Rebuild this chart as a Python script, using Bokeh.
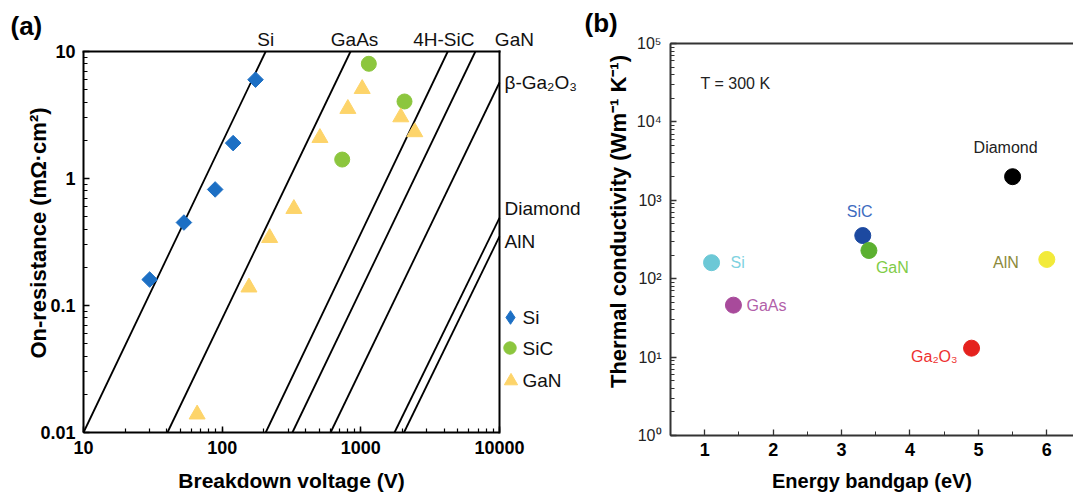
import math
from bokeh.plotting import figure
from bokeh.layouts import row
from bokeh.models import (Label, Legend, LegendItem, CustomJSTickFormatter,
                          SingleIntervalTicker, Range1d, ColumnDataSource)
from bokeh.embed import file_html
from bokeh.resources import INLINE

FONT = "Liberation Sans"

# ---------------- Panel (a) data ----------------
si_v = [30, 53, 89, 120, 174]
si_r = [0.16, 0.45, 0.82, 1.9, 6.0]
sic_v = [734, 1142, 2065]
sic_r = [1.41, 8.0, 4.04]
gan_v = [66, 156, 220, 329, 507, 806, 1023, 1941, 2449]
gan_r = [0.0139, 0.139, 0.341, 0.577, 2.09, 3.54, 5.08, 3.04, 2.32]

limit_names = ["Si", "GaAs", "4H-SiC", "GaN", "β-Ga₂O₃", "Diamond", "AlN"]
limit_v0 = [10, 40.3, 206, 321, 605, 1749, 2047]
limit_r0 = [0.01, 0.01, 0.01, 0.01, 0.01, 0.01, 0.01]
limit_v1 = [206, 843, 4236, 6700, 10000, 10000, 10000]
limit_r1 = [10, 10, 10, 10, 5.7, 0.49, 0.35]

legend_labels = ["Si", "SiC", "GaN"]

# ---------------- Panel (b) data ----------------
mat_names = ["Si", "GaAs", "SiC", "GaN", "Diamond", "AlN", "Ga₂O₃"]
mat_gap = [1.1, 1.42, 3.31, 3.4, 5.5, 6.0, 4.9]
mat_k = [160, 46, 355, 229, 2000, 176, 13]
mat_colors = ["#6cc8d6", "#a84a9b", "#1c49a0", "#5bb030", "#000000", "#f2ea3a", "#e5221e"]
mat_label_colors = ["#7ed2e0", "#b25fa9", "#3d6bc0", "#7fcc48", "#222222", "#8c8a3a", "#ee3030"]

# axis domains
A_X = (10, 10000)
A_Y = (0.01, 10)
B_X_LO = 0.5
B_Y = (1, 1e5)

# ---- layout constants (pixels) ----
A_W, H = 582, 499
A_LEFT, A_TOP, A_BOTTOM = 83, 51, 67
A_RIGHT = A_W - A_LEFT - 416
B_W = 1073 - A_W
B_LEFT, B_TOP, B_BOTTOM = 670 - A_W, 43, 64

SI_COLOR, SIC_COLOR, GAN_COLOR = "#1c6fc4", "#8cc63e", "#fdd46a"
NAN = float("nan")

# ================= Panel (a) =================
dx = (A_W - A_LEFT - A_RIGHT) / math.log10(A_X[1] / A_X[0])
dy = (H - A_TOP - A_BOTTOM) / math.log10(A_Y[1] / A_Y[0])
xr_a = Range1d(A_X[0] * 10 ** (-A_LEFT / dx), A_X[1] * 10 ** (A_RIGHT / dx))
yr_a = Range1d(A_Y[0] * 10 ** (-A_BOTTOM / dy), A_Y[1] * 10 ** (A_TOP / dy))

p1 = figure(width=A_W, height=H, x_axis_type="log", y_axis_type="log",
            x_range=xr_a, y_range=yr_a, output_backend="svg", toolbar_location=None,
            min_border_left=0, min_border_right=0, min_border_top=0, min_border_bottom=0)
p1.grid.visible = False
p1.outline_line_color = None
p1.background_fill_color = "white"
p1.border_fill_color = "white"

# frame top & right edges
p1.segment(x0=[A_X[0], A_X[1]], y0=[A_Y[1], A_Y[0]], x1=[A_X[1], A_X[1]], y1=[A_Y[1], A_Y[1]],
           line_color="black", line_width=2, line_cap="square")

p1.segment(x0=limit_v0, y0=limit_r0, x1=limit_v1, y1=limit_r1, line_color="black", line_width=1.8)

r_si = p1.scatter(si_v, si_r, marker="square", angle=0.785398, size=11, color=SI_COLOR)
r_sic = p1.scatter(sic_v, sic_r, marker="circle", size=15, color=SIC_COLOR)
r_gan = p1.scatter(gan_v, gan_r, marker="triangle", size=16, color=GAN_COLOR)
# legend proxy for the rotated-square Si marker (legend glyphs ignore rotation); never drawn
r_si_leg = p1.scatter(x=[NAN], y=[NAN], marker="diamond", size=11, color=SI_COLOR)

xa, ya = p1.xaxis[0], p1.yaxis[0]
xa.fixed_location = A_Y[0]
xa.bounds = A_X
ya.fixed_location = A_X[0]
ya.bounds = A_Y
for ax in (xa, ya):
    ax.axis_line_width = 2
    ax.major_tick_in = 6
    ax.major_tick_out = 0
    ax.minor_tick_in = 4
    ax.minor_tick_out = 0
    ax.major_tick_line_width = 1.5
    ax.minor_tick_line_width = 1.2
    ax.major_label_text_font = FONT
    ax.major_label_text_font_style = "bold"
    ax.major_label_text_font_size = "18px"
    ax.major_label_text_color = "black"
    ax.axis_label_text_font = FONT
    ax.axis_label_text_font_style = "bold"
    ax.axis_label_text_color = "black"
    ax.major_label_standoff = 8

fmt_a = CustomJSTickFormatter(code="""
const e = Math.round(Math.log10(tick));
return e >= 0 ? String(Math.round(tick)) : tick.toFixed(-e);
""")
xa.formatter = fmt_a
ya.formatter = fmt_a
xa.axis_label = "Breakdown voltage (V)"
xa.axis_label_text_font_size = "21px"
xa.axis_label_standoff = 12

p1.add_layout(Label(x=A_X[0], y=math.sqrt(A_Y[0] * A_Y[1]), text="On-resistance (mΩ·cm²)",
                    angle=math.pi / 2, x_offset=-45, y_offset=9, text_align="center",
                    text_baseline="middle", text_font=FONT, text_font_style="bold",
                    text_font_size="22px", text_color="black"))

# limit line labels
top_offsets = [0, 4, -4, 39]
for i in range(4):
    p1.add_layout(Label(x=limit_v1[i], y=limit_r1[i], text=limit_names[i], x_offset=top_offsets[i],
                        y_offset=12, text_align="center", text_baseline="middle",
                        text_font=FONT, text_font_size="19px", text_color="#111111"))
right_offsets = [0, 9, -5]
for j, i in enumerate(range(4, 7)):
    p1.add_layout(Label(x=limit_v1[i], y=limit_r1[i], text=limit_names[i], x_offset=5,
                        y_offset=right_offsets[j], text_align="left", text_baseline="middle",
                        text_font=FONT, text_font_size="19px", text_color="#111111"))

# legend: glyph-only Legend per entry (own glyph size), text as labels
leg_renderers = [r_si_leg, r_sic, r_gan]
leg_box = [34, 31, 33]          # glyph box (marker drawn at 0.4 of it)
leg_center_y = [317, 348, 380]  # pixel rows from top
LEG_GLYPH_X, LEG_TEXT_X = 510, 522
for lab, rend, g, cy in zip(legend_labels, leg_renderers, leg_box, leg_center_y):
    lg = Legend(items=[LegendItem(label=" ", renderers=[rend])],
                location=(round(LEG_GLYPH_X - g / 2), round(H - (cy + g / 2))),
                padding=0, margin=0, spacing=0,
                glyph_width=g, glyph_height=g, label_height=g, label_width=0,
                label_standoff=0, label_text_font_size="1px",
                border_line_color=None, background_fill_alpha=0)
    p1.add_layout(lg, "center")
    p1.add_layout(Label(x=LEG_TEXT_X, y=H - cy, x_units="screen", y_units="screen", text=lab,
                        text_align="left", text_baseline="middle", text_font=FONT,
                        text_font_size="19px", text_color="#111111"))

p1.add_layout(Label(x=A_X[0], y=A_Y[1], text="(a)", x_offset=-73, y_offset=26, text_align="left",
                    text_baseline="middle", text_font=FONT, text_font_style="bold",
                    text_font_size="26px", text_color="black"))

# ================= Panel (b) =================
B_X_HI = 6.39
bx = (B_W - B_LEFT) / (B_X_HI - B_X_LO)
by = (H - B_TOP - B_BOTTOM) / math.log10(B_Y[1] / B_Y[0])
xr_b = Range1d(B_X_LO - B_LEFT / bx, B_X_HI)
yr_b = Range1d(B_Y[0] * 10 ** (-B_BOTTOM / by), B_Y[1] * 10 ** (B_TOP / by))

p2 = figure(width=B_W, height=H, y_axis_type="log", x_range=xr_b, y_range=yr_b,
            output_backend="svg", toolbar_location=None,
            min_border_left=0, min_border_right=0, min_border_top=0, min_border_bottom=0)
p2.grid.visible = False
p2.outline_line_color = None
p2.background_fill_color = "white"
p2.border_fill_color = "white"

# frame top edge
p2.segment(x0=[B_X_LO], y0=[B_Y[1]], x1=[B_X_HI], y1=[B_Y[1]], line_color="#333333", line_width=2)

src = ColumnDataSource(dict(x=mat_gap, y=mat_k, c=mat_colors))
p2.scatter("x", "y", source=src, size=16, color="c")

xb, yb = p2.xaxis[0], p2.yaxis[0]
xb.fixed_location = B_Y[0]
xb.bounds = (B_X_LO, B_X_HI)
yb.fixed_location = B_X_LO
yb.bounds = B_Y
for ax in (xb, yb):
    ax.axis_line_width = 2
    ax.axis_line_color = "#333333"
    ax.major_tick_in = 6
    ax.major_tick_out = 0
    ax.minor_tick_in = 4
    ax.minor_tick_out = 0
    ax.major_tick_line_width = 1.3
    ax.minor_tick_line_width = 1
    ax.major_tick_line_color = "#333333"
    ax.minor_tick_line_color = "#333333"
    ax.axis_label_text_font = FONT
    ax.axis_label_text_font_style = "bold"
    ax.axis_label_text_color = "black"

xb.ticker = SingleIntervalTicker(interval=1, num_minor_ticks=2)
xb.major_label_text_font = FONT
xb.major_label_text_font_style = "bold"
xb.major_label_text_font_size = "18px"
xb.major_label_text_color = "black"
xb.major_label_standoff = 7
xb.axis_label = "Energy bandgap (eV)"
xb.axis_label_text_font_size = "20px"
xb.axis_label_standoff = 11

yb.formatter = CustomJSTickFormatter(code="""
const sup = ["\u2070","\u00b9","\u00b2","\u00b3","\u2074","\u2075","\u2076"];
const e = Math.round(Math.log10(tick));
return "10" + sup[e];
""")
yb.major_label_text_font = FONT
yb.major_label_text_font_size = "16px"
yb.major_label_text_color = "#222222"
yb.major_label_standoff = 9

p2.add_layout(Label(x=B_X_LO, y=math.sqrt(B_Y[0] * B_Y[1]), text="Thermal conductivity (Wm⁻¹ K⁻¹)",
                    angle=math.pi / 2, x_offset=-52, y_offset=18, text_align="center",
                    text_baseline="middle", text_font=FONT, text_font_style="bold",
                    text_font_size="22px", text_color="black"))

lab_xoff = [19, 13, -3, 7, -7, -28, -14]
lab_yoff = [0, 0, 24, -17, 29, -3, -8]
lab_align = ["left", "left", "center", "left", "center", "right", "right"]
for i in range(len(mat_names)):
    p2.add_layout(Label(x=mat_gap[i], y=mat_k[i], text=mat_names[i], x_offset=lab_xoff[i],
                        y_offset=lab_yoff[i], text_align=lab_align[i], text_baseline="middle",
                        text_font=FONT, text_font_size="16px", text_color=mat_label_colors[i]))

p2.add_layout(Label(x=0.94, y=31000, text="T = 300 K", text_align="left", text_baseline="middle",
                    text_font=FONT, text_font_size="16px", text_color="#222222"))
p2.add_layout(Label(x=B_X_LO, y=B_Y[1], text="(b)", x_offset=-86, y_offset=21, text_align="left",
                    text_baseline="middle", text_font=FONT, text_font_style="bold",
                    text_font_size="26px", text_color="black"))

layout = row(p1, p2)
with open("out.html", "w", encoding="utf-8") as f:
    f.write(file_html(layout, INLINE))
